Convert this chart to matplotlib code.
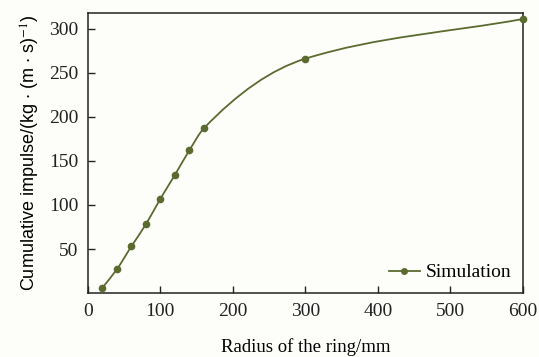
import numpy as np
import matplotlib
matplotlib.use('Agg')
import matplotlib.pyplot as plt
from matplotlib.path import Path
from matplotlib.patches import PathPatch
from matplotlib.lines import Line2D

# Daten
radius = [20, 40, 60, 80, 100, 120, 140, 160, 300, 600]
impulse = [6, 27, 53, 78, 107, 134, 162, 187, 266, 311]
x_ticks = [0, 100, 200, 300, 400, 500, 600]
y_ticks = [50, 100, 150, 200, 250, 300]

line_color = '#5b6b30'
bg_color = '#fdfdfa'

plt.rcParams['font.family'] = ['Liberation Serif', 'DejaVu Serif']
plt.rcParams['mathtext.fontset'] = 'stix'

fig = plt.figure(figsize=(5.39, 3.57), dpi=100, facecolor=bg_color)
ax = fig.add_axes([0.163, 0.179, 0.807, 0.785], facecolor=bg_color)

# glatte Kurve als Bezier-Pfad durch die Messpunkte (monotone Tangenten)
x = np.array(radius, dtype=float)
y = np.array(impulse, dtype=float)
h = np.diff(x)
d = np.diff(y) / h
m = np.zeros_like(x)
m[0] = d[0]
m[-1] = d[-1]
for i in range(1, len(x) - 1):
    if d[i - 1] * d[i] > 0:
        w1 = 2 * h[i] + h[i - 1]
        w2 = h[i] + 2 * h[i - 1]
        m[i] = (w1 + w2) / (w1 / d[i - 1] + w2 / d[i])
verts = [(x[0], y[0])]
codes = [Path.MOVETO]
for i in range(len(x) - 1):
    verts += [(x[i] + h[i] / 3, y[i] + m[i] * h[i] / 3),
              (x[i + 1] - h[i] / 3, y[i + 1] - m[i + 1] * h[i] / 3),
              (x[i + 1], y[i + 1])]
    codes += [Path.CURVE4] * 3
ax.add_patch(PathPatch(Path(verts, codes), facecolor='none',
                       edgecolor=line_color, linewidth=1.3, zorder=2))
ax.plot(radius, impulse, linestyle='none', marker='o', markersize=4.5,
        color=line_color, zorder=3, clip_on=False)

ax.set_xlim(0, 600)
ax.set_ylim(0, 318)
ax.set_xticks(x_ticks)
ax.set_yticks(y_ticks)
ax.tick_params(direction='in', length=5, width=1, labelsize=14, pad=7,
               top=False, right=False, colors='#222222')
for s in ax.spines.values():
    s.set_linewidth(1.1)
    s.set_color('#222222')

ax.set_xlabel('Radius of the ring/mm', fontsize=13.5, labelpad=13)
ax.set_ylabel(r'Cumulative impulse/(kg $\cdot$ (m $\cdot$ s)$^{-1}$)',
              fontsize=13, family=['Liberation Sans Narrow', 'Liberation Sans', 'DejaVu Sans'],
              labelpad=5)

handle = Line2D([], [], color=line_color, marker='o', markersize=4, linewidth=1.3)
ax.legend([handle], ['Simulation'], loc='lower right', frameon=False,
          fontsize=14, handlelength=1.6, handletextpad=0.3,
          borderaxespad=0.2)

fig.savefig('out.png', dpi=100, facecolor=bg_color)
